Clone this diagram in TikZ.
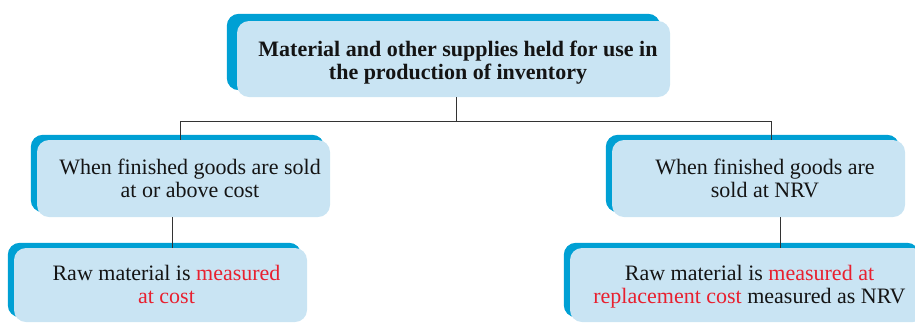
\documentclass[tikz,border=0pt]{standalone}
\usepackage{fontspec}
\setmainfont{Liberation Serif}
\usetikzlibrary{backgrounds}
\definecolor{boxlight}{RGB}{201,228,243}
\definecolor{boxdark}{RGB}{0,160,212}
\definecolor{hot}{RGB}{232,32,47}
\definecolor{ink}{RGB}{20,20,20}
\begin{document}
\begin{tikzpicture}[x=1pt,y=-1pt,
  lightbox/.style={fill=boxlight, rounded corners=12pt, draw=none, inner sep=0pt},
  darkback/.style={fill=boxdark, rounded corners=12pt},
  txt/.style={align=center, text=ink, inner sep=0pt, font=\fontsize{22}{23}\selectfont},
  btxt/.style={align=center, text=ink, inner sep=0pt, font=\fontsize{22}{23}\selectfont\bfseries},
  conn/.style={draw=black!80, line width=0.8pt}]
\useasboundingbox (0,0) rectangle (915,322);
\clip (0,0) rectangle (915,322);

% light boxes
\node[lightbox, minimum width=433pt, minimum height=76pt] (top) at (453.5,59) {};
\node[lightbox, minimum width=293pt, minimum height=77pt] (lm) at (183.5,178.5) {};
\node[lightbox, minimum width=293pt, minimum height=77pt] (rm) at (758.5,178.5) {};
\node[lightbox, minimum width=293pt, minimum height=74pt] (bl) at (160.5,285) {};
\node[lightbox, minimum width=355pt, minimum height=74pt] (br) at (747.5,285) {};

% dark backs
\begin{scope}[on background layer]
\fill[darkback] ([xshift=-10pt,yshift=7pt]top.north west) rectangle ([xshift=-10pt,yshift=7pt]top.south east);
\foreach \b in {lm,rm,bl,br}{
  \fill[darkback] ([xshift=-6pt,yshift=5pt]\b.north west) rectangle ([xshift=-6pt,yshift=5pt]\b.south east);
}
\end{scope}

% texts
\node[btxt] (ttop) at (458,62.4) {Material and other supplies held for use in\\the production of inventory};
\node[txt] (tlm) at (190,178) {When finished goods are sold\\at or above cost};
\node[txt] (trm) at (765,178) {When finished goods are\\sold at NRV};
\node[txt] (tbl) at (166.5,284) {Raw material is \textcolor{hot}{measured}\\\textcolor{hot}{at cost}};
\node[txt] (tbr) at (749.5,286.4) {Raw material is \textcolor{hot}{measured at}\\\textcolor{hot}{replacement cost} measured as NRV};

% connectors
\coordinate (jt) at (456,121);
\coordinate (jl) at (180,121);
\coordinate (jr) at (771,121);
\coordinate (cl) at (172,0);
\coordinate (cr) at (780,0);
\draw[conn] (jt |- top.south) -- (jt);
\draw[conn] (jl |- lm.north) -- (jl) -- (jr) -- (jr |- rm.north);
\draw[conn] (cl |- lm.south) -- (cl |- bl.north);
\draw[conn] (cr |- rm.south) -- (cr |- br.north);
\end{tikzpicture}
\end{document}
